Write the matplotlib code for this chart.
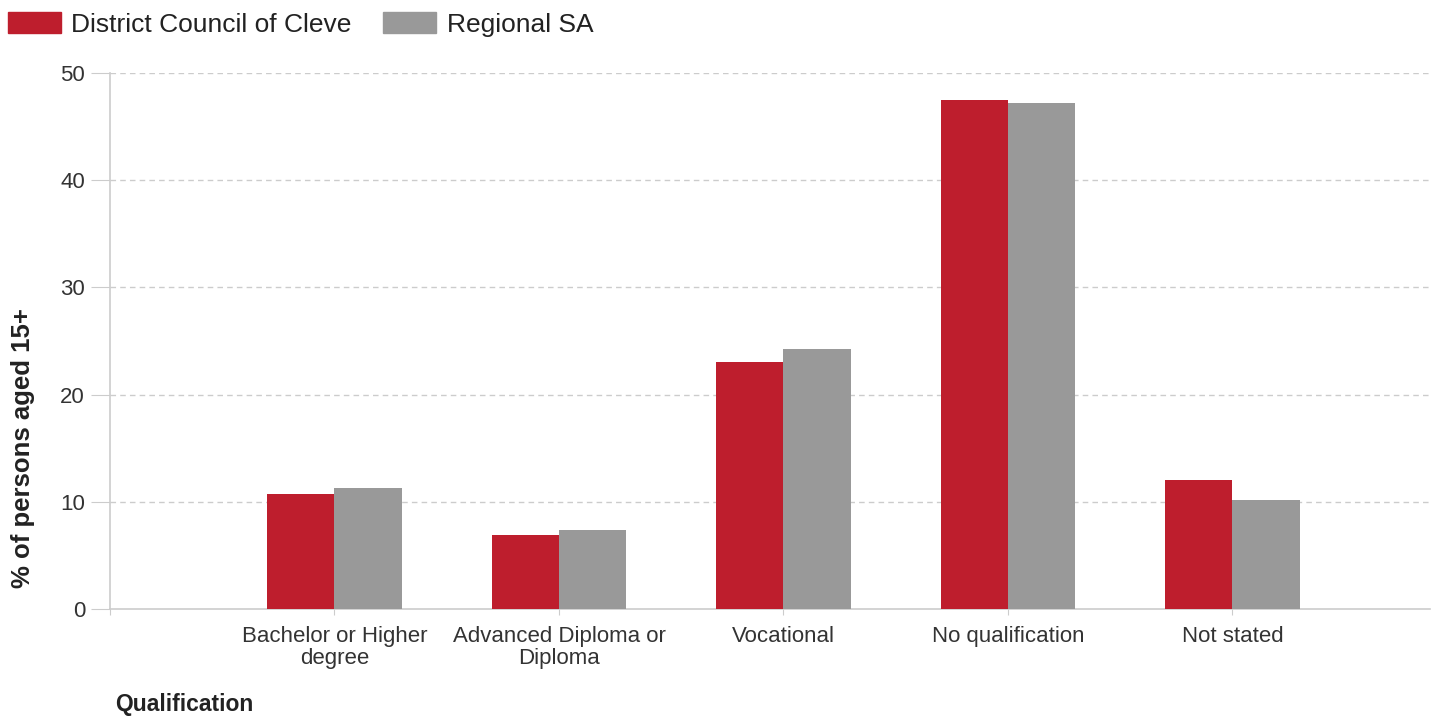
import matplotlib

matplotlib.use("Agg")
import matplotlib.pyplot as plt
import numpy as np
from matplotlib.patches import Patch

# values
categories = [
    "Bachelor or Higher\ndegree",
    "Advanced Diploma or\nDiploma",
    "Vocational",
    "No qualification",
    "Not stated",
]
cleve = [10.7, 6.9, 23.0, 47.5, 12.0]
regional_sa = [11.3, 7.4, 24.3, 47.2, 10.2]
y_ticks = [0, 10, 20, 30, 40, 50]

RED = "#be1e2d"
GREY = "#999999"
AXIS_GREY = "#cccccc"
TEXT = "#333333"

plt.rcParams["font.family"] = ["Liberation Sans", "DejaVu Sans"]

fig = plt.figure(figsize=(14.38, 7.22), dpi=100)
ax = fig.add_axes([0.0765, 0.1565, 0.9179, 0.7424])

# the first slot (index 0) is left empty, as in the reference
x = np.arange(1, len(categories) + 1)
width = 0.3
ax.bar(x - width / 2, cleve, width, color=RED, zorder=3)
ax.bar(x + width / 2, regional_sa, width, color=GREY, zorder=3)

ax.set_xlim(0, 5.88)
ax.set_ylim(0, 50)
ax.set_yticks(y_ticks)
ax.set_yticklabels([str(v) for v in y_ticks], fontsize=16, color=TEXT)
ax.set_xticks(np.concatenate([[0], x]))
ax.set_xticklabels([""] + categories, fontsize=16, color=TEXT, linespacing=1.08)

ax.tick_params(axis="y", length=14, color=AXIS_GREY, pad=4)
ax.tick_params(axis="x", length=4, color=AXIS_GREY, pad=8)

for v in y_ticks[1:]:
    ax.axhline(v, color=AXIS_GREY, linestyle=(0, (4, 3)), linewidth=1, zorder=1)

for side in ("top", "right"):
    ax.spines[side].set_visible(False)
for side in ("left", "bottom"):
    ax.spines[side].set_color(AXIS_GREY)
    ax.spines[side].set_linewidth(1.2)

fig.text(0.016, 0.38, "% of persons aged 15+", rotation=90, fontsize=18.5,
         fontweight="bold", color="#222222", ha="center", va="center")
fig.text(0.08, 0.008, "Qualification", fontsize=16.5, fontweight="bold",
         color="#222222", ha="left", va="bottom")

handles = [Patch(color=RED), Patch(color=GREY)]
fig.legend(handles, ["District Council of Cleve", "Regional SA"],
           loc="upper left", bbox_to_anchor=(-0.011, 1.016), ncol=2,
           frameon=False, fontsize=19, handlelength=2.0, handleheight=0.85,
           handletextpad=0.4, columnspacing=1.2, labelcolor="#222222")

fig.savefig("out.png", dpi=100)
